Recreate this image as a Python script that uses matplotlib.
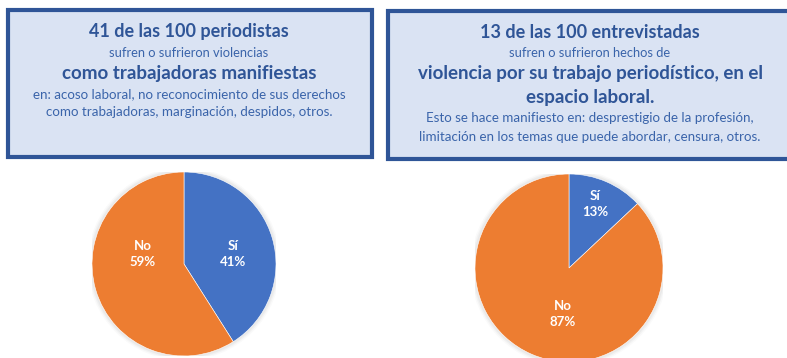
import matplotlib.pyplot as plt
from matplotlib.patches import Rectangle, Circle

W, H = 787, 358

# survey results
pie_labels = ['Sí', 'No']
left_values = [41, 59]
right_values = [13, 87]

left_lines = [
    ('41 de las 100 periodistas', 'bold', 13),
    ('sufren o sufrieron violencias', 'normal', 9.3),
    ('como trabajadoras manifiestas', 'bold', 13.5),
    ('en: acoso laboral, no reconocimiento de sus derechos', 'normal', 9.6),
    ('como trabajadoras, marginación, despidos, otros.', 'normal', 9.6),
]
right_lines = [
    ('13 de las 100 entrevistadas', 'bold', 13),
    ('sufren o sufrieron hechos de', 'normal', 9.3),
    ('violencia por su trabajo periodístico, en el', 'bold', 13.5),
    ('espacio laboral.', 'bold', 13.5),
    ('Esto se hace manifiesto en: desprestigio de la profesión,', 'normal', 9.6),
    ('limitación en los temas que puede abordar, censura, otros.', 'normal', 9.6),
]

BLUE = '#4472C4'
ORANGE = '#ED7D31'
BORDER = '#2F5597'
FILL = '#DAE3F3'
TEXT_DARK = '#2F5597'
TEXT_LIGHT = '#3A64AA'

plt.rcParams['font.family'] = ['Lato', 'DejaVu Sans']

fig = plt.figure(figsize=(W / 100, H / 100), dpi=100)


def fx(x):
    return x / W


def fy(y):
    return 1 - y / H


def text_box(x0, y0, x1, y1, cx, lines, ys):
    fig.patches.append(Rectangle((fx(x0), fy(y1)), fx(x1) - fx(x0), fy(y0) - fy(y1),
                                 transform=fig.transFigure, facecolor=FILL,
                                 edgecolor=BORDER, linewidth=3, zorder=0))
    for (txt, weight, size), y in zip(lines, ys):
        color = TEXT_DARK if weight == 'bold' else TEXT_LIGHT
        fig.text(fx(cx), fy(y), txt, ha='center', va='center', fontsize=size,
                 fontweight=weight, color=color)


text_box(8, 10, 372, 157, 189, left_lines, [32, 53, 73, 94, 112])
text_box(388, 11, 810, 159, 590, right_lines, [32, 53, 74, 98, 118, 137])


def pie_chart(cx, cy, r, values, label_pos):
    ax = fig.add_axes([fx(cx - r), fy(cy + r), 2 * r / W, 2 * r / H])
    ax.set_xlim(-1, 1)
    ax.set_ylim(-1, 1)
    ax.axis('off')
    # soft halo around the pie
    for k, a in [(1.05, 0.04), (1.035, 0.06), (1.02, 0.08)]:
        ax.add_patch(Circle((0, 0), k, color='grey', alpha=a, lw=0, zorder=0))
    ax.pie(values, colors=[BLUE, ORANGE], startangle=90, counterclock=False,
           radius=1, center=(0, 0), frame=False,
           wedgeprops=dict(edgecolor='white', linewidth=0.4))
    ax.set_xlim(-1, 1)
    ax.set_ylim(-1, 1)
    for lab, v, (px, py) in zip(pie_labels, values, label_pos):
        ax.text(px, py, '%s\n%d%%' % (lab, v), ha='center', va='center',
                color='white', fontsize=9.5, fontweight='bold', linespacing=1.35)


pie_chart(184, 264, 92, left_values, [(0.53, 0.11), (-0.45, 0.11)])
pie_chart(569, 268, 94, right_values, [(0.28, 0.68), (-0.07, -0.49)])

fig.savefig('out.png', dpi=100)
